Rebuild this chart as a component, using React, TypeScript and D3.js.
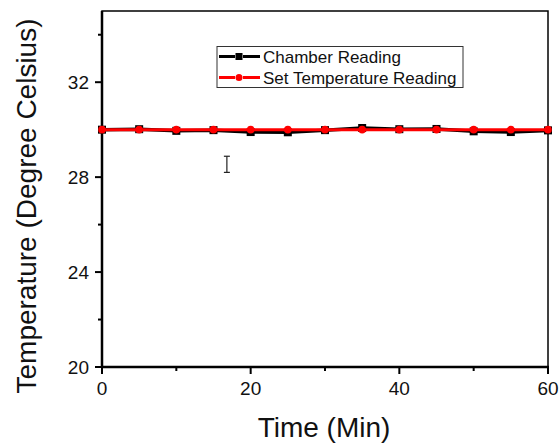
import React from "react";
import * as d3 from "d3";

// data
const times = [0, 5, 10, 15, 20, 25, 30, 35, 40, 45, 50, 55, 60];
const chamber = [30.0, 30.02, 29.95, 29.98, 29.9, 29.89, 29.98, 30.07, 30.02, 30.03, 29.93, 29.9, 29.97];
const setTemp = [30, 30, 30, 30, 30, 30, 30, 30, 30, 30, 30, 30, 30];
const xTicks = [0, 20, 40, 60];
const xMinor = [10, 30, 50];
const yTicks = [20, 24, 28, 32];
const yMinor = [22, 26, 30, 34];
const legendLabels = ["Chamber Reading", "Set Temperature Reading"];

const W = 559;
const H = 443;
const m = { left: 102, right: 548, top: 11, bottom: 367 };
const font = "Arial, 'Liberation Sans', sans-serif";

export default function App() {
  const x = d3.scaleLinear().domain([0, 60]).range([m.left, m.right]);
  const y = d3.scaleLinear().domain([20, 35]).range([m.bottom, m.top]);

  const line = d3
    .line<number>()
    .x((_, i) => x(times[i]))
    .y((d) => y(d));

  const lx = 218;
  const ly = 56.5;

  return (
    <svg
      width={W}
      height={H}
      style={{ position: "absolute", left: 0, top: 0, background: "#fff" }}
      fontFamily={font}
    >
      {/* frame */}
      <rect
        x={m.left}
        y={m.top}
        width={m.right - m.left}
        height={m.bottom - m.top}
        fill="none"
        stroke="#000"
        strokeWidth={1.5}
      />
      <line x1={m.left} x2={m.left} y1={m.top} y2={m.bottom + 1} stroke="#000" strokeWidth={2.5} />
      <line x1={m.left - 1} x2={m.right + 1} y1={m.bottom} y2={m.bottom} stroke="#000" strokeWidth={2.5} />

      {/* x ticks */}
      {xTicks.map((t) => (
        <g key={"x" + t}>
          <line x1={x(t)} x2={x(t)} y1={m.bottom} y2={m.bottom + 7} stroke="#000" strokeWidth={2} />
          <text x={x(t)} y={m.bottom + 28} textAnchor="middle" fontSize={19} fill="#111">
            {t}
          </text>
        </g>
      ))}
      {xMinor.map((t) => (
        <line key={"xm" + t} x1={x(t)} x2={x(t)} y1={m.bottom} y2={m.bottom + 4} stroke="#000" strokeWidth={2} />
      ))}

      {/* y ticks */}
      {yTicks.map((t) => (
        <g key={"y" + t}>
          <line x1={m.left - 7} x2={m.left} y1={y(t)} y2={y(t)} stroke="#000" strokeWidth={2} />
          <text x={m.left - 13} y={y(t) + 7} textAnchor="end" fontSize={19} fill="#111">
            {t}
          </text>
        </g>
      ))}
      {yMinor.map((t) => (
        <line key={"ym" + t} x1={m.left - 4} x2={m.left} y1={y(t)} y2={y(t)} stroke="#000" strokeWidth={2} />
      ))}

      {/* axis titles */}
      <text x={324} y={437} textAnchor="middle" fontSize={28} fill="#111">
        Time (Min)
      </text>
      <text transform={`translate(36,206) rotate(-90)`} textAnchor="middle" fontSize={28} fill="#111">
        Temperature (Degree Celsius)
      </text>

      {/* chamber series */}
      <path d={line(chamber) || ""} fill="none" stroke="#000" strokeWidth={3.5} />
      {chamber.map((v, i) => (
        <rect key={"c" + i} x={x(times[i]) - 4} y={y(v) - 4} width={8} height={8} fill="#000" />
      ))}

      {/* set temperature series */}
      <path d={line(setTemp) || ""} fill="none" stroke="#ff0000" strokeWidth={3} />
      {setTemp.map((v, i) => (
        <circle key={"s" + i} cx={x(times[i])} cy={y(v)} r={3.8} fill="#ff0000" />
      ))}

      {/* stray I-beam cursor in the original */}
      <g stroke="#222" strokeWidth={1.2} fill="none">
        <line x1={x(16.8)} x2={x(16.8)} y1={y(28.88)} y2={y(28.2)} />
        <line x1={x(16.8) - 3} x2={x(16.8) + 3} y1={y(28.88)} y2={y(28.88)} />
        <line x1={x(16.8) - 3} x2={x(16.8) + 3} y1={y(28.2)} y2={y(28.2)} />
      </g>

      {/* legend */}
      <rect x={217} y={46.5} width={246} height={41} fill="#fff" stroke="#333" strokeWidth={1} />
      <g>
        <line x1={lx + 1} x2={lx + 17} y1={ly} y2={ly} stroke="#000" strokeWidth={3} />
        <line x1={lx + 25} x2={lx + 42} y1={ly} y2={ly} stroke="#000" strokeWidth={3} />
        <rect x={lx + 17.5} y={ly - 3.5} width={7} height={7} fill="#000" />
        <text x={lx + 45} y={ly + 6} fontSize={17} fill="#111">
          {legendLabels[0]}
        </text>
        <line x1={lx + 1} x2={lx + 17} y1={ly + 21} y2={ly + 21} stroke="#ff0000" strokeWidth={3} />
        <line x1={lx + 25} x2={lx + 42} y1={ly + 21} y2={ly + 21} stroke="#ff0000" strokeWidth={3} />
        <circle cx={lx + 21} cy={ly + 21} r={3.5} fill="#ff0000" />
        <text x={lx + 45} y={ly + 27} fontSize={17} fill="#111">
          {legendLabels[1]}
        </text>
      </g>
    </svg>
  );
}
